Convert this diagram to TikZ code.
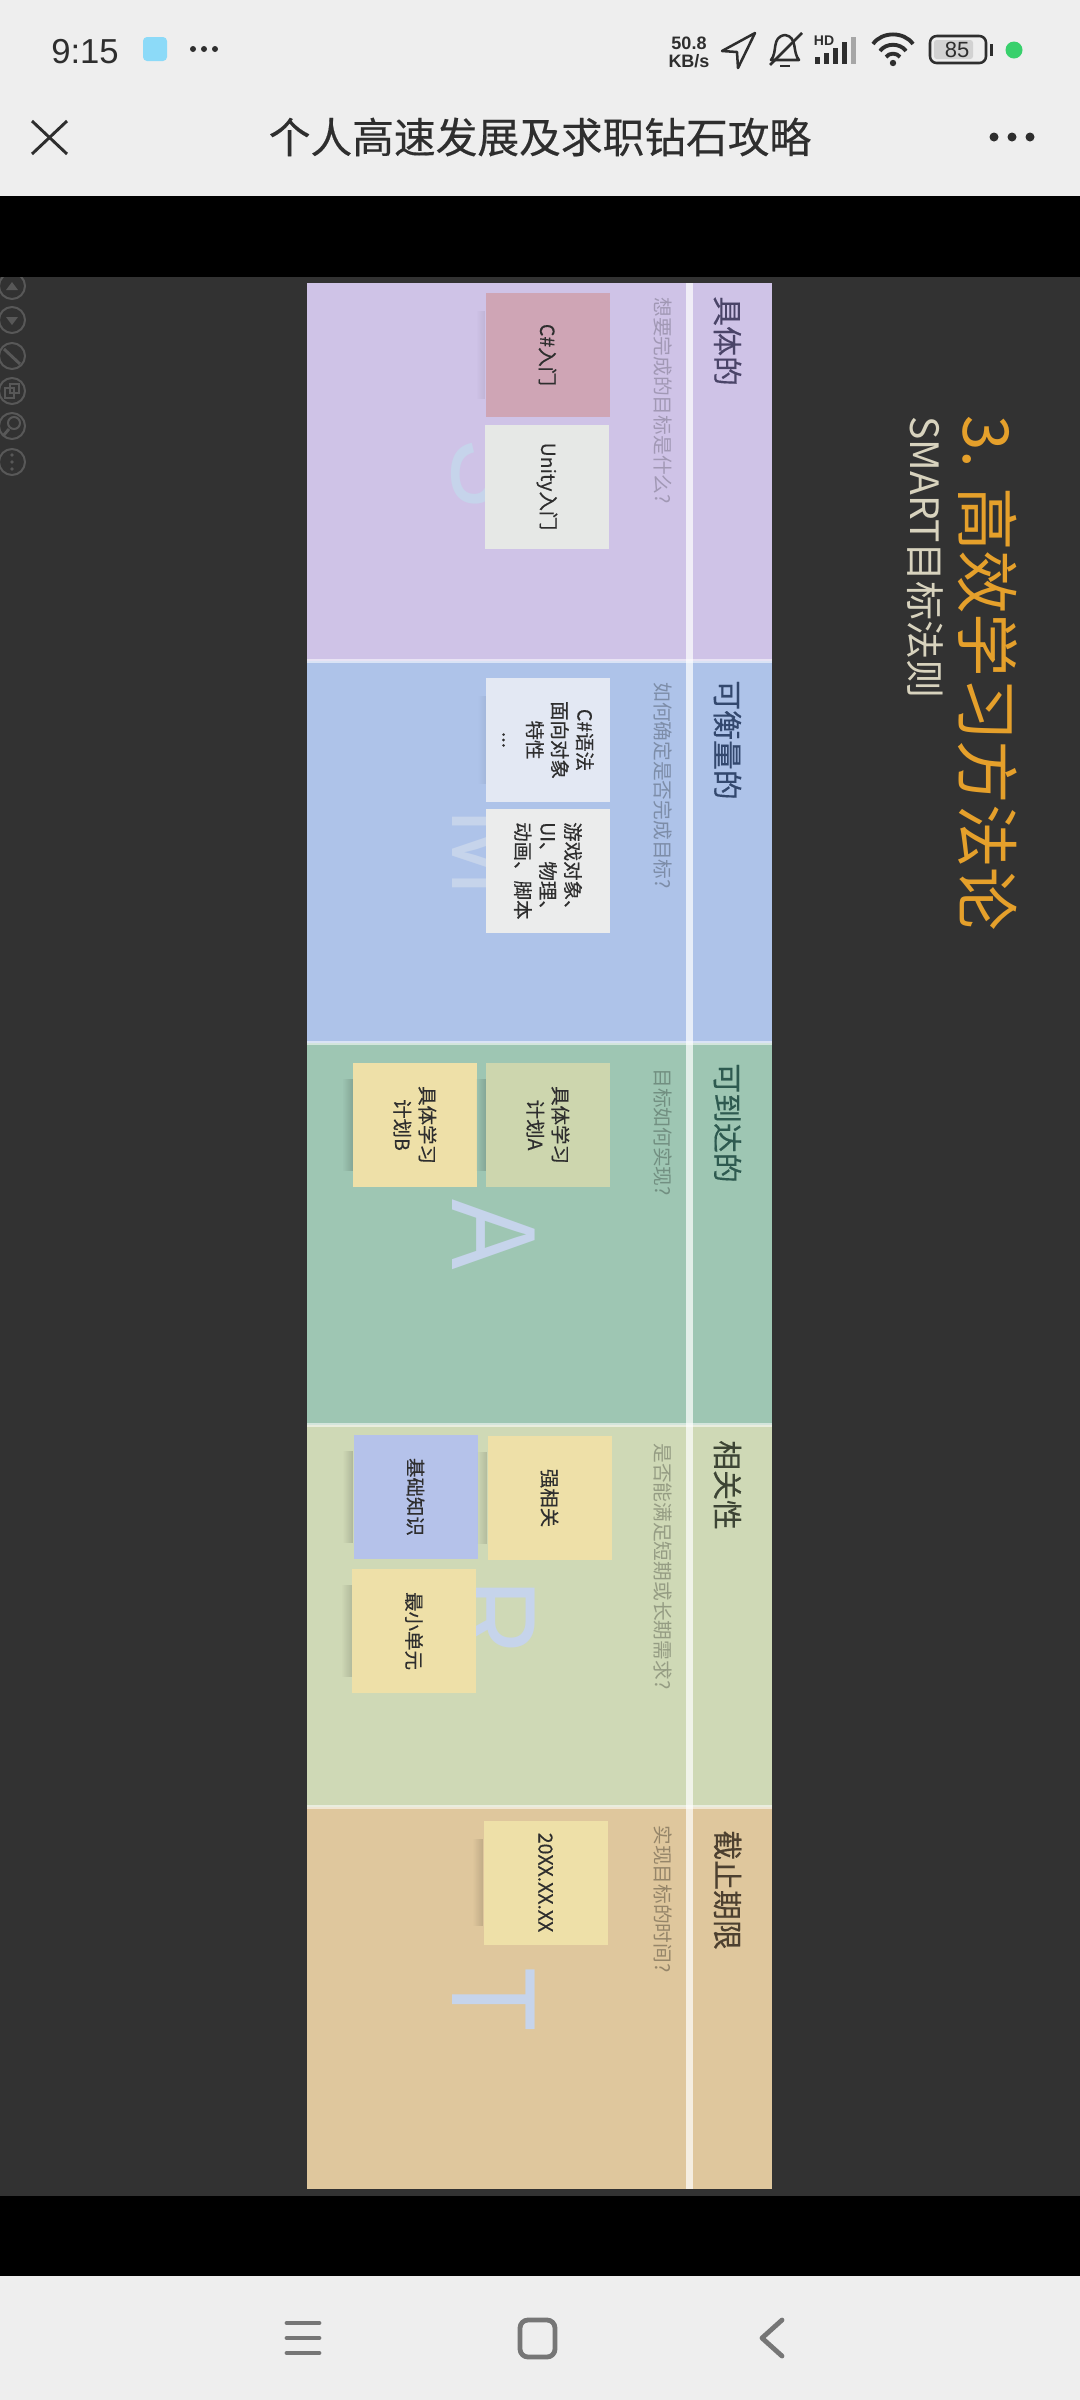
\documentclass[tikz,border=0pt]{standalone}
\usepackage{fontspec}
\setmainfont{Noto Sans CJK SC}
\newfontfamily\heavyfont[FakeBold=.35]{Noto Sans CJK SC}
\newfontfamily\latinfont{Liberation Sans}
\newfontfamily\letterfont[FakeStretch=0.88]{Liberation Sans}
\usetikzlibrary{fadings}
\definecolor{phone}{HTML}{EEEEEE}
\definecolor{slide}{HTML}{323232}
\definecolor{ink}{HTML}{2E2E2E}
\definecolor{toolring}{HTML}{585858}
\definecolor{navgray}{HTML}{767676}
\definecolor{amber}{HTML}{E5A02B}
\definecolor{cream}{HTML}{D8D3BE}
\definecolor{ghost}{HTML}{C6D4EB}
\definecolor{dotgreen}{HTML}{38D06C}
\definecolor{sband}{HTML}{CFC3E7}
\definecolor{mband}{HTML}{AEC3E9}
\definecolor{aband}{HTML}{9EC6B3}
\definecolor{rband}{HTML}{CFD9B6}
\definecolor{tband}{HTML}{DFC79D}
\definecolor{shead}{HTML}{4A4468}
\definecolor{mhead}{HTML}{33486E}
\definecolor{ahead}{HTML}{2E5A50}
\definecolor{rhead}{HTML}{3D4535}
\definecolor{thead}{HTML}{4D4030}
\definecolor{rosecard}{HTML}{CFA5B5}
\definecolor{yellowcard}{HTML}{EEE0A8}
\definecolor{bluecard}{HTML}{B5C2EA}
\definecolor{paleacard}{HTML}{CDD6AE}
\definecolor{greycard}{HTML}{E6E8E6}
\definecolor{mistcard}{HTML}{E3E8F3}
\definecolor{sheetcard}{HTML}{EBECEC}
\tikzset{
    stickcard/.style={rectangle,rotate=-90,minimum size=93pt,inner sep=0pt,align=center,text=ink,font=\heavyfont\fontsize{14.6}{18.75}\selectfont},
    rowhead/.style={rotate=-90,anchor=west,inner sep=0pt,font=\heavyfont\fontsize{22.4}{26}\selectfont},
    rowhint/.style={rotate=-90,anchor=west,inner sep=0pt,font=\fontsize{14.8}{18}\selectfont},
    ghostletter/.style={rotate=-90,anchor=base,inner sep=0pt,text=ghost,font=\letterfont\fontsize{90}{100}\selectfont},
    curlshade/.style={fill=black,path fading=west},
    toolicon/.style={draw=toolring,line width=1.5pt},
    navicon/.style={draw=navgray,line width=3.6pt,line cap=round,line join=round},
    staticon/.style={draw=ink,line width=1.9pt,line join=round}
}
\begin{document}
\begin{tikzpicture}[x=.75pt,y=-.75pt]
    \useasboundingbox (0,0) rectangle (1080,2400);
    \fill[phone] (0,0) rectangle (1080,2400);
    \fill[slide] (0,277) rectangle (1080,2196);

    % slide tools
    \draw[toolicon] (12,286) circle [radius=13];
    \draw[toolicon] (12,320) circle [radius=13];
    \draw[toolicon] (12,356) circle [radius=13];
    \draw[toolicon] (12,391) circle [radius=13];
    \draw[toolicon] (12,426) circle [radius=13];
    \draw[toolicon] (12,462) circle [radius=13];
    \fill[toolring] (6,290) -- (18,290) -- (12,282) -- cycle;
    \fill[toolring] (6,317) -- (18,317) -- (12,325) -- cycle;
    \draw[toolicon,line width=2.2pt] (4,349) -- (20,364);
    \draw[toolicon] (5,388) rectangle (14,398);
    \draw[toolicon] (10,384) rectangle (19,393);
    \draw[toolicon] (14,423) circle [radius=6];
    \draw[toolicon,line width=2.2pt] (9,429) -- (3,436);
    \fill[toolring] (12,455) circle [radius=1.8];
    \fill[toolring] (12,462) circle [radius=1.8];
    \fill[toolring] (12,469) circle [radius=1.8];

    \fill[black] (0,196) rectangle (1080,277);
    \fill[black] (0,2196) rectangle (1080,2276);

    % the five rows
    \fill[sband] (307,283) rectangle (772,661);
    \fill[mband] (307,661) rectangle (772,1043);
    \fill[aband] (307,1043) rectangle (772,1425);
    \fill[rband] (307,1425) rectangle (772,1807);
    \fill[tband] (307,1807) rectangle (772,2189);
    \fill[white,opacity=.55] (307,659) rectangle (772,663);
    \fill[white,opacity=.55] (307,1041) rectangle (772,1045);
    \fill[white,opacity=.55] (307,1423) rectangle (772,1427);
    \fill[white,opacity=.55] (307,1805) rectangle (772,1809);
    \fill[white,opacity=.7] (686,283) rectangle (693,2189);

    \draw (452,474) node (letterS) [ghostletter] {S};
    \draw (452,852) node (letterM) [ghostletter] {M};
    \draw (452,1235) node (letterA) [ghostletter] {A};
    \draw (452,1618) node (letterR) [ghostletter] {R};
    \draw (452,2000) node (letterT) [ghostletter] {T};

    \draw (727.5,296) node (headS) [rowhead,text=shead] {具体的};
    \draw (727.5,680) node (headM) [rowhead,text=mhead] {可衡量的};
    \draw (727.5,1063) node (headA) [rowhead,text=ahead] {可到达的};
    \draw (727.5,1440) node (headR) [rowhead,text=rhead] {相关性};
    \draw (727.5,1830) node (headT) [rowhead,text=thead] {截止期限};

    \draw (663,297) node (hintS) [rowhint,text=black!22!sband] {想要完成的目标是什么?};
    \draw (663,682) node (hintM) [rowhint,text=black!28!mband] {如何确定是否完成目标?};
    \draw (663,1068) node (hintA) [rowhint,text=black!28!aband] {目标如何实现?};
    \draw (663,1443) node (hintR) [rowhint,text=black!28!rband] {是否能满足短期或长期需求?};
    \draw (663,1825) node (hintT) [rowhint,text=black!33!tband] {实现目标的时间?};

    \draw (547.5,355) node (csharp) [stickcard,fill=rosecard] {C\#入门};
    \draw (547,486.5) node (unity) [stickcard,fill=greycard] {Unity入门};
    \draw (548,740) node (syntax) [stickcard,fill=mistcard] {C\#语法\\面向对象\\特性\\...};
    \draw (548,871) node (engine) [stickcard,align=left,fill=sheetcard] {游戏对象、\\UI、物理、\\动画、脚本};
    \draw (548,1125) node (plana) [stickcard,fill=paleacard] {具体学习\\计划A};
    \draw (415,1125) node (planb) [stickcard,fill=yellowcard] {具体学习\\计划B};
    \draw (549.5,1498) node (strong) [stickcard,fill=yellowcard] {强相关};
    \draw (415.5,1497) node (basics) [stickcard,fill=bluecard] {基础知识};
    \draw (414,1631) node (smallest) [stickcard,fill=yellowcard] {最小单元};
    \draw (545.5,1882.5) node (deadline) [stickcard,fill=yellowcard] {20XX.XX.XX};

    \fill[curlshade,opacity=.07] ([xshift=-7pt,yshift=-14pt]csharp.south west) rectangle ([yshift=14pt]csharp.south east);
    \fill[curlshade,opacity=.06] ([xshift=-6pt,yshift=-14pt]syntax.south west) rectangle ([yshift=14pt]syntax.south east);
    \fill[curlshade,opacity=.16] ([xshift=-8pt,yshift=-12pt]plana.south west) rectangle ([yshift=12pt]plana.south east);
    \fill[curlshade,opacity=.16] ([xshift=-8pt,yshift=-12pt]planb.south west) rectangle ([yshift=12pt]planb.south east);
    \fill[curlshade,opacity=.14] ([xshift=-8pt,yshift=-12pt]strong.south west) rectangle ([yshift=12pt]strong.south east);
    \fill[curlshade,opacity=.16] ([xshift=-8pt,yshift=-12pt]basics.south west) rectangle ([yshift=12pt]basics.south east);
    \fill[curlshade,opacity=.14] ([xshift=-8pt,yshift=-12pt]smallest.south west) rectangle ([yshift=12pt]smallest.south east);
    \fill[curlshade,opacity=.14] ([xshift=-8pt,yshift=-14pt]deadline.south west) rectangle ([yshift=14pt]deadline.south east);

    % slide title
    \draw (963,415) node (slidetitle) [rotate=-90,anchor=base west,inner sep=0pt,text=amber,font=\fontsize{47.6}{54}\selectfont] {3. 高效学习方法论};
    \draw (910,416) node (slidesub) [rotate=-90,anchor=base west,inner sep=0pt,text=cream,font=\fontsize{29.3}{32}\selectfont] {SMART目标法则};

    % status bar
    \draw (51,63) node (clock) [anchor=base west,inner sep=0pt,text=ink,font=\latinfont\fontsize{26}{30}\selectfont] {9:15};
    \fill[cyan!45!white] (143,37) [rounded corners=3pt] rectangle (167,61);
    \fill[ink] (193,49) circle [radius=3];
    \fill[ink] (204,49) circle [radius=3];
    \fill[ink] (215,49) circle [radius=3];
    \draw (689,43) node (speed) [inner sep=0pt,text=ink,font=\latinfont\bfseries\fontsize{13.5}{14}\selectfont] {50.8};
    \draw (689,61) node (speedunit) [inner sep=0pt,text=ink,font=\latinfont\bfseries\fontsize{13.5}{14}\selectfont] {KB/s};
    \draw[staticon] (755,33) -- (722,51) -- (737,52) -- (738,68) -- cycle;
    \draw[staticon] (771,60) .. controls (778,52) and (771,37) .. (785,35) .. controls (798,37) and (792,52) .. (799,60) -- cycle;
    \draw[staticon] (780,66) -- (790,66);
    \draw[staticon] (802,33) -- (770,65);
    \draw (824,41) node (hd) [inner sep=0pt,text=ink,font=\latinfont\bfseries\fontsize{10.5}{11}\selectfont] {HD};
    \fill[ink] (815,57) rectangle (820,64);
    \fill[ink] (824,53) rectangle (829,64);
    \fill[ink] (833,48) rectangle (838,64);
    \fill[ink] (842,42) rectangle (847,64);
    \fill[gray!70] (851,37) rectangle (856,64);
    \draw[staticon,line width=2.9pt] (873,44) to [bend left=55] (913,44);
    \draw[staticon,line width=2.9pt] (880,51) to [bend left=55] (906,51);
    \draw[staticon,line width=2.9pt] (886,57) to [bend left=55] (900,57);
    \fill[ink] (893,63) circle [radius=3.2];
    \fill[gray!35] (934,40) [rounded corners=2pt] rectangle (973,59);
    \draw[staticon,rounded corners=5pt] (930,36) rectangle (986,63);
    \fill[ink] (990,44) rectangle (993,56);
    \draw (957,50) node (level) [inner sep=0pt,text=ink,font=\latinfont\fontsize{16.5}{18}\selectfont] {85};
    \fill[dotgreen] (1014,50) circle [radius=8.5];

    % title bar
    \draw[ink,line width=2.2pt] (32,121) -- (67,154);
    \draw[ink,line width=2.2pt] (67,121) -- (32,154);
    \draw (540,137) node (apptitle) [inner sep=0pt,text=ink,font=\heavyfont\fontsize{31.3}{36}\selectfont] {个人高速发展及求职钻石攻略};
    \fill[ink] (994,137) circle [radius=4.5];
    \fill[ink] (1012,137) circle [radius=4.5];
    \fill[ink] (1030,137) circle [radius=4.5];

    % navigation bar
    \draw[navicon] (287,2323) -- (319,2323);
    \draw[navicon] (287,2338) -- (319,2338);
    \draw[navicon] (287,2353) -- (319,2353);
    \draw[navicon,rounded corners=6pt] (520,2320) rectangle (555,2357);
    \draw[navicon] (782,2320) -- (762,2338) -- (782,2356);
\end{tikzpicture}
\end{document}
